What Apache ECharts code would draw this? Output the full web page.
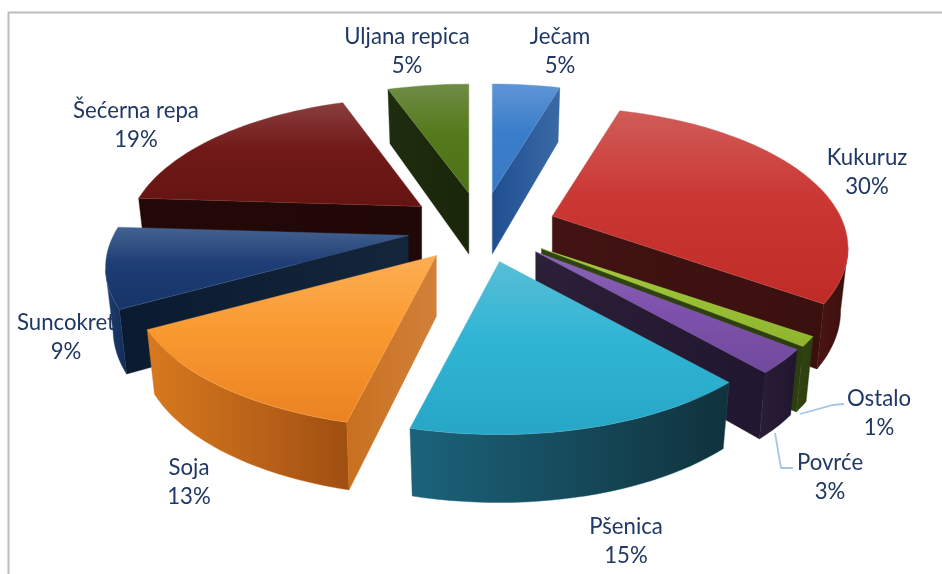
<!DOCTYPE html>
<html><head><meta charset="utf-8">
<style>html,body{margin:0;padding:0;background:#fff}#c{width:942px;height:574px}</style>
<script src="https://cdn.jsdelivr.net/npm/echarts@6/dist/echarts.min.js"></script>
</head><body><div id="c"></div>
<script>
// ---- data ----
const categories = ['Ječam','Kukuruz','Ostalo','Povrće','Pšenica','Soja','Suncokret','Šećerna repa','Uljana repica'];
const values = [4.6,30.1,1.1,2.7,15.3,13,9.2,18.6,5.4];
const shownPercent = [5,30,1,3,15,13,9,19,5];

// ---- style / layout (indexed like categories) ----
const topLight = ['#5f95d6','#d05c58','#a6cc48','#8a66b6','#58bed6','#fdae55','#446391','#8a3e3e','#6f8c45'];
const topBase  = ['#3a7dca','#cb3733','#99c136','#7f52ad','#30b5d4','#f99a30','#1d3d75','#701a18','#547a1c'];
const topDark  = ['#3a7ac4','#bf2c28','#8fb52f','#704a9c','#27a6c6','#ea8222','#183468','#651412','#4e7218'];
const wallA    = ['#1f4f90','#421312','#30440f','#2c2038','#12343f','#c8701f','#0a1a30','#240808','#1e2c10'];
const wallB    = ['#3a6aa6','#3a100e','#2c3e10','#21162f','#12343f','#d2803a','#15263a','#200807','#1a260a'];
const outerA   = ['#2f6099','#4a1512','#30440f','#2a1e36','#1b637b','#d8791f','#1f3f72','#260a08','#1e2c10'];
const outerB   = ['#2f6099','#3a0f0d','#2c3e10','#20152e','#10323c','#a04f12','#122a52','#200807','#1a260a'];
const labelAt  = [[560,51],[867,172],[879,413],[830,477],[626,541],[189,482],[66,337],[136,125],[407,51]];
const leaderAt = {2:[[800,414],[833,405],[844,404]], 3:[[775,433],[781,468],[793,468]]};
const radiusScale = [1,1,1,1,1,1,1,0.975,1];
const drawOrder = [0,8,1,7,2,6,3,5,4];

const CX=481.5, CY=227.6, EX=75, EY=35;   // centre and explosion
const RXR=288, RXL=295, RY=133.7, PERSP=0.227; // projected radius and perspective
const DEPTH=61, DEPTH_P=7, FOOT=0.975;    // wall height, foot narrowing

const total = values.reduce((a,b)=>a+b,0);
const starts=[]; values.reduce((acc,v,i)=>{starts[i]=acc/total*2*Math.PI;return acc+v;},0);

function grad(stops){
  return new echarts.graphic.LinearGradient(0,0,0,1,stops.map(s=>({offset:s[0],color:s[1]})));
}
function hGrad(a,b){return new echarts.graphic.LinearGradient(0,0,1,0,[{offset:0,color:a},{offset:1,color:b}]);}

function render(params,api){
  const i=api.value(0);
  const a0=starts[i], a1=a0+values[i]/total*2*Math.PI, m=(a0+a1)/2;
  const T=[CX+EX*Math.sin(m), CY-EY*Math.cos(m)];
  const P=t=>{const Y=Math.cos(t),S=Math.sin(t),s=1/(1+PERSP*Y),rx=(S>=0?RXR:RXL)*radiusScale[i];return [T[0]+rx*S*s, T[1]-RY*Y*s];};
  const F=t=>{const p=P(t);return [T[0]+(p[0]-T[0])*FOOT, p[1]+DEPTH-DEPTH_P*Math.cos(t)];};
  const TF=[T[0],T[1]+DEPTH];
  const n=Math.max(4,Math.round((a1-a0)/(Math.PI/90)));
  const arc=[]; for(let k=0;k<=n;k++) arc.push(a0+(a1-a0)*k/n);
  const pts=arc.map(P);
  const mid=[(T[0]+pts[0][0]+pts[n][0])/3,(T[1]+pts[0][1]+pts[n][1])/3];
  const kids=[];
  const poly=(points,fill)=>kids.push({type:'polygon',shape:{points},style:{fill,stroke:fill.colorStops?fill.colorStops[0].color:fill,lineWidth:0.4}});
  const faces=E=>{
    const dx=E[0]-T[0],dy=E[1]-T[1];
    if(Math.abs(dx)<0.01) return false;
    return (dx*(mid[1]-T[1])-dy*(mid[0]-T[0]))/dx<0;
  };
  if(faces(pts[0])) poly([T,pts[0],F(a0),TF],hGrad(wallA[i],wallB[i]));
  if(faces(pts[n])) poly([T,pts[n],F(a1),TF],hGrad(wallA[i],wallB[i]));
  // outer rim: only the arc segments turned towards the viewer
  const vis=[]; for(let k=0;k<n;k++){ if(pts[k+1][0]<pts[k][0]) vis.push(k); }
  if(vis.length){
    const idx=vis.concat([vis[vis.length-1]+1]);
    const top=idx.map(k=>pts[k]), foot=idx.map(k=>F(arc[k])).reverse();
    poly(top.concat(foot),hGrad(outerA[i],outerB[i]));
  }
  poly([T].concat(pts),grad([[0,topLight[i]],[0.45,topBase[i]],[1,topDark[i]]]));
  if(leaderAt[i]) kids.push({type:'polyline',shape:{points:leaderAt[i]},style:{fill:null,stroke:'#a5c6e6',lineWidth:1.8}});
  kids.push({type:'text',z2:50,style:{
    x:labelAt[i][0],y:labelAt[i][1],text:categories[i]+'\n'+shownPercent[i]+'%',
    align:'center',verticalAlign:'middle',fill:'#1f3864',
    font:'22.2px Lato, "Open Sans", sans-serif',lineHeight:29}});
  return {type:'group',children:kids};
}

const chart=echarts.init(document.getElementById('c'),null,{renderer:'canvas'});
chart.setOption({
  animation:false,backgroundColor:'#fff',
  graphic:[
    {type:'polyline',shape:{points:[[8.5,574],[8.5,12.5],[942,12.5]]},style:{fill:null,stroke:'#bdbdbd',lineWidth:2}}
  ],
  series:[{type:'custom',coordinateSystem:'none',silent:true,clip:false,
    data:drawOrder.map(i=>[i,values[i]]),
    encode:{value:[0,1]},
    renderItem:render}]
});
</script></body></html>
